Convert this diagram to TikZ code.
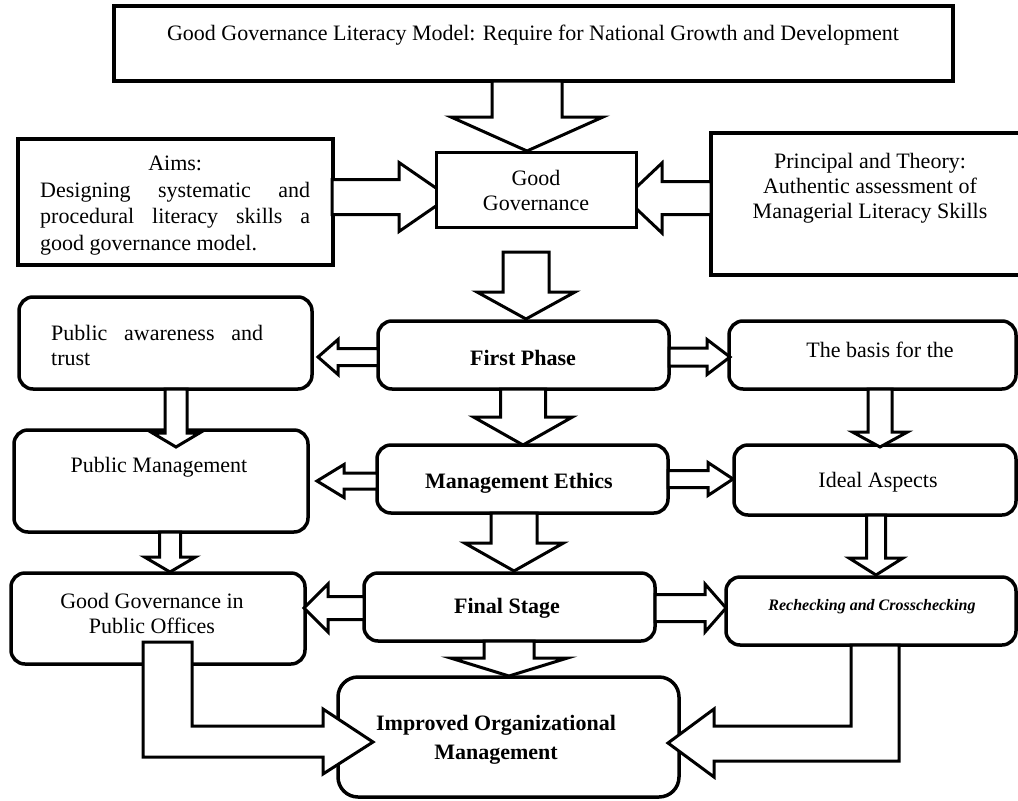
\documentclass[tikz,border=0pt]{standalone}
\usepackage{fontspec}
\setmainfont{Liberation Serif}
\usetikzlibrary{calc}
\tikzset{
  bx/.style={draw=black, line width=3.5pt, fill=white, inner sep=0pt},
  sq/.style={bx},
  rb/.style={bx, rounded corners=14pt},
  blk/.style={draw=black, line width=3pt, fill=white, line join=miter},
  txt/.style={inner sep=0pt, font=\fontsize{22}{25}\selectfont, align=center},
  jtxt/.style={inner sep=0pt, font=\fontsize{22}{26.5}\selectfont, align=justify},
}
\newcommand\mkbox[6]{\node[#6, minimum width={(#4-#2)*1pt}, minimum height={(#5-#3)*1pt}] (#1) at ({(#2+#4)/2},{(#3+#5)/2}) {};}
% vertical block arrow: xc, y0, ybase, ytip, half shaft, half head
\newcommand\blkdown[6]{\draw[blk] ({#1-#5},#2) -- ({#1-#5},#3) -- ({#1-#6},#3) -- (#1,#4) -- ({#1+#6},#3) -- ({#1+#5},#3) -- ({#1+#5},#2) -- cycle;}
% horizontal block arrow: yc, x0, xbase, xtip, half shaft, half head
\newcommand\blkside[6]{\draw[blk] (#2,{#1-#5}) -- (#3,{#1-#5}) -- (#3,{#1-#6}) -- (#4,#1) -- (#3,{#1+#6}) -- (#3,{#1+#5}) -- (#2,{#1+#5}) -- cycle;}
\begin{document}
\begin{tikzpicture}[x=1pt,y=-1pt]
\useasboundingbox (0,0) rectangle (1018,801);
\fill[white] (0,0) rectangle (1018,801);

% top row boxes
\mkbox{top}{114}{6}{953}{81}{sq, line width=4pt}
\mkbox{aims}{18}{139}{333}{265}{sq, line width=4pt}
\mkbox{prin}{711}{133}{1030}{275}{sq, line width=4pt}
% arrows into Good Governance (drawn below the box)
\blkside{197}{332}{399}{449}{17.5}{34.5}
\blkside{198}{711}{662}{625}{16.5}{35}
\mkbox{gg}{436}{152}{636}{227}{sq, line width=3pt}

% rounded boxes
\mkbox{pa}{19}{297}{312}{389}{rb}
\mkbox{fp}{378}{321}{669}{389}{rb}
\mkbox{basis}{729}{321}{1016}{389}{rb}
\mkbox{pm}{14}{430}{308}{532}{rb}
\mkbox{me}{377}{445}{668}{513}{rb}
\mkbox{ia}{734}{445}{1016}{515}{rb}
\mkbox{ggpo}{11}{573}{305}{664}{rb}
\mkbox{fs}{364}{573}{655}{641}{rb}
\mkbox{rc}{726}{577}{1016}{645}{rb}
\mkbox{iom}{338}{677}{679}{797}{bx, rounded corners=20pt}

% block arrows
\blkdown{527}{81}{117}{151}{35}{76}
\blkdown{526}{252}{292}{319}{23}{49}
\blkside{357}{378}{338}{318}{8.5}{17.5}
\blkside{357}{669}{707}{730}{9}{17.5}
\blkdown{176}{389}{433}{447}{11}{23.5}
\blkdown{523}{389}{417}{445}{22.5}{49.5}
\blkdown{880}{389}{432}{447}{12}{27.5}
\blkside{481}{377}{344}{317}{8}{16.5}
\blkside{479}{668}{708}{733}{8.5}{16.5}
\blkdown{170}{532}{557}{572}{10.5}{25.5}
\blkdown{514}{513}{543}{571}{23}{49.5}
\blkdown{876}{515}{558}{575}{9.5}{27}
\blkside{608}{364}{328}{304}{11.5}{24}
\blkside{608}{655}{705}{726}{13.5}{24}
\blkdown{509}{641}{658}{676}{25}{58.5}
\draw[blk] (143,642) -- (143,757) -- (323,757) -- (323,774) -- (373,742) -- (323,709) -- (323,726) -- (192,726) -- (192,642) -- cycle;
\draw[blk] (899,645) -- (899,761) -- (714,761) -- (714,777) -- (668,743) -- (714,709) -- (714,726) -- (851,726) -- (851,645) -- cycle;

% texts
\node[txt, anchor=base] (topt) at (533,40) {Good Governance Literacy Model: Require for National Growth and Development};
\node[jtxt, text width=270pt, anchor=north west] (aimst) at (40,156) {{\centering Aims:\par}Designing systematic and\linebreak procedural literacy skills a\linebreak good governance model.};
\node[txt] (ggt) at (536,190) {Good\\Governance};
\node[txt] (print) at (870,188) {Principal and Theory:\\Authentic assessment of\\Managerial Literacy Skills};
\node[jtxt, text width=212pt, anchor=north west, font=\fontsize{22}{25}\selectfont] (pat) at (51,325) {Public awareness and\linebreak trust};
\node[txt, font=\fontsize{22}{25}\selectfont\bfseries] (fpt) at (523,358) {First Phase};
\node[txt] (basist) at (880,350) {The basis for the};
\node[txt] (pmt) at (159,467) {Public Management};
\node[txt, font=\fontsize{22}{25}\selectfont\bfseries] (met) at (519,483) {Management Ethics};
\node[txt] (iat) at (878,482) {Ideal Aspects};
\node[txt] (ggpot) at (152,613) {Good Governance in\\Public Offices};
\node[txt, font=\fontsize{22}{25}\selectfont\bfseries] (fst) at (507,608) {Final Stage};
\node[txt, font=\fontsize{16}{19}\selectfont\bfseries\itshape] (rct) at (872,607) {Rechecking and Crosschecking};
\node[txt, font=\fontsize{22}{29}\selectfont\bfseries] (iomt) at (496,740) {Improved Organizational\\Management};
\end{tikzpicture}
\end{document}
